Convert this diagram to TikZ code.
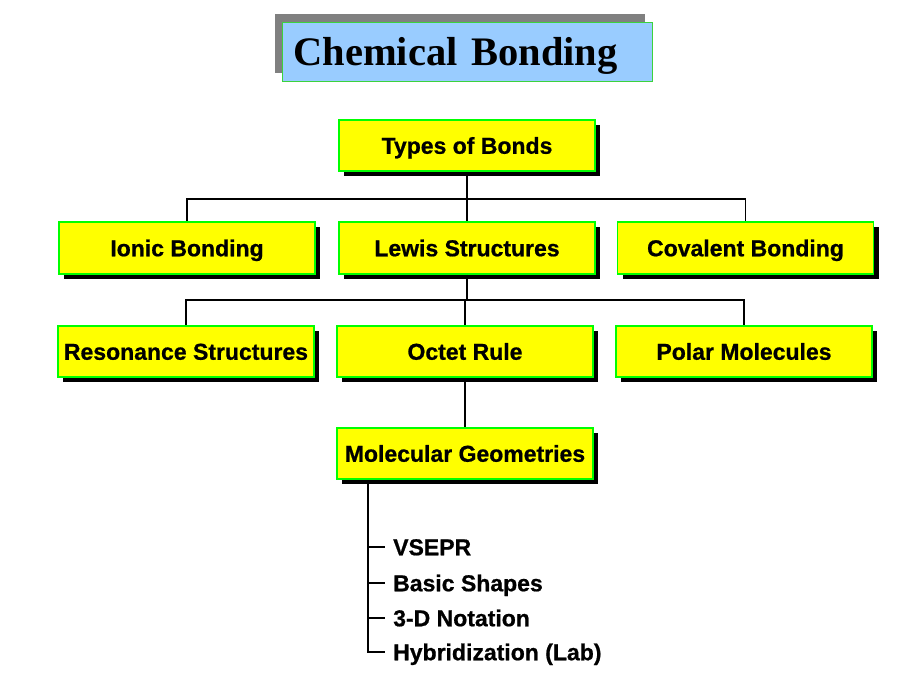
\documentclass[tikz,border=0pt]{standalone}
\usepackage{fontspec}
\setmainfont{Liberation Serif}
\setsansfont{Liberation Sans}[BoldFeatures={FakeBold=0.8}]
\usetikzlibrary{shadows}

\definecolor{boxgreen}{RGB}{0,255,0}
\definecolor{boxyellow}{RGB}{255,255,0}
\definecolor{titlegreen}{RGB}{60,210,60}
\definecolor{titleblue}{RGB}{153,204,255}
\definecolor{titleshade}{RGB}{128,128,128}

\begin{document}
\begin{tikzpicture}[
x=1pt, y=-1pt,
every node/.style={font=\sffamily\bfseries\fontsize{23}{26}\selectfont},
titlebox/.style={draw=titlegreen, line width=1.4pt, fill=titleblue, text width=348pt, align=left, inner xsep=11pt, inner ysep=0pt, minimum height=59pt, text height=27pt, text depth=0pt, font=\rmfamily\bfseries\fontsize{40.5}{44}\selectfont, drop shadow={shadow xshift=-8pt, shadow yshift=8pt, fill=titleshade, opacity=1}},
bondbox/.style={draw=boxgreen, line width=1.6pt, fill=boxyellow, minimum width=256pt, minimum height=51.5pt, text height=16.5pt, text depth=0pt, inner sep=0pt, drop shadow={shadow xshift=5pt, shadow yshift=-5pt, fill=black, opacity=1}},
itemtext/.style={anchor=west, inner xsep=8pt, inner ysep=0pt, text height=16.5pt, text depth=0pt},
link/.style={line width=1.3pt}
]

\useasboundingbox (0,0) rectangle (920,690);

\node[titlebox] (title) at (467.5, 52) {Chemical Bonding};

\node[bondbox] (types) at (467, 145.5) {Types of Bonds};

\node[bondbox] (ionic) at (187, 248) {Ionic Bonding};
\node[bondbox] (lewis) at (467, 248) {Lewis Structures};
\node[bondbox] (covalent) at (745.5, 248) {Covalent Bonding};

\node[bondbox] (resonance) at (186, 351.5) {Resonance Structures};
\node[bondbox] (octet) at (465, 351.5) {Octet Rule};
\node[bondbox] (polar) at (744, 351.5) {Polar Molecules};

\node[bondbox] (molgeo) at (465, 453.5) {Molecular Geometries};


\coordinate (bustop) at (467, 199);
\draw[link] (types.south) -- (bustop);
\draw[link] (bustop) -| (ionic.north);
\draw[link] (bustop) -| (covalent.north);
\draw[link] (bustop) -- (lewis.north);

\coordinate (busmid) at (465, 300);
\draw[link] (lewis.south) -- (lewis.south |- busmid);
\draw[link] (busmid) -| (resonance.north);
\draw[link] (busmid) -| (polar.north);
\draw[link] (lewis.south |- busmid) -- (busmid) -- (octet.north);

\draw[link] (octet.south) -- (molgeo.north);


\node[itemtext] (vsepr) at (385, 547) {VSEPR};
\node[itemtext] (shapes) at (385, 583) {Basic Shapes};
\node[itemtext] (notation) at (385, 618) {3-D Notation};
\node[itemtext] (hybrid) at (385, 652) {Hybridization (Lab)};

\coordinate (spine) at (368, 480);
\draw[link] (spine) |- (hybrid.west);
\foreach \n in {vsepr, shapes, notation} {
\draw[link] (spine |- \n.west) -- (\n.west);
}

\end{tikzpicture}
\end{document}
